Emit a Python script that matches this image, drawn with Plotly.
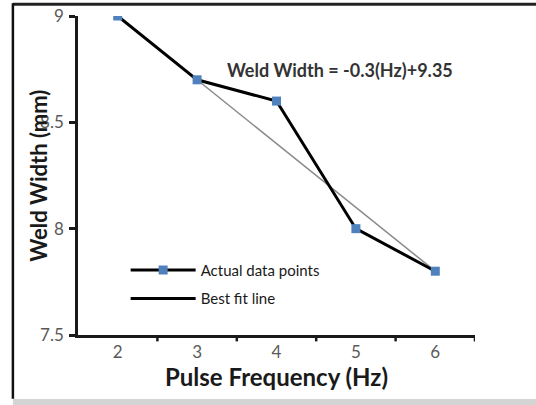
import plotly.graph_objects as go

# Data
pulse_freq = [2, 3, 4, 5, 6]
weld_width = [9.0, 8.7, 8.6, 8.0, 7.8]
fit_x = [2, 6]
fit_y = [9.0, 7.8]
x_ticks = [2, 3, 4, 5, 6]
y_ticks = [7.5, 8, 8.5, 9]
y_tick_text = ["7.5", "8", "8.5", "9"]
equation = "Weld Width = -0.3(Hz)+9.35"
x_title = "Pulse Frequency (Hz)"
y_title = "Weld Width (mm)"

fig = go.Figure()
fig.add_trace(go.Scatter(
    x=fit_x, y=fit_y, mode="lines",
    line=dict(color="#8a8a8a", width=1.5),
    showlegend=False, hoverinfo="skip"))
fig.add_trace(go.Scatter(
    x=pulse_freq, y=weld_width, mode="lines+markers",
    name="Actual data points", legendgroup="a",
    line=dict(color="black", width=3),
    marker=dict(symbol="square", size=9, color="#4f81bd")))
# legend-only entry for the fit line (drawn black/thick in the legend of the reference)
fig.add_trace(go.Scatter(
    x=[None], y=[None], mode="lines", name="Best fit line", legendgroup="b",
    line=dict(color="black", width=3)))

font_family = "Lato, Open Sans, sans-serif"

fig.update_layout(
    width=536, height=405,
    margin=dict(l=78, r=61, t=16, b=70, autoexpand=False),
    paper_bgcolor="white", plot_bgcolor="white",
    font=dict(family=font_family),
    showlegend=True,
    legend=dict(x=0.12, y=0.255, xanchor="left", yanchor="top",
                bgcolor="rgba(0,0,0,0)",
                font=dict(size=15, color="#1a1a1a", family=font_family),
                tracegroupgap=6, itemwidth=65),
    xaxis=dict(range=[1.5, 6.5], tickvals=x_ticks, ticktext=[str(v) for v in x_ticks],
               showgrid=False, zeroline=False, automargin=False,
               showline=True, linecolor="#1a1a1a", linewidth=2.5,
               ticks="", tickfont=dict(size=17, color="#595959"),
               title=dict(text="<b>" + x_title + "</b>",
                          font=dict(size=24, color="#1a1a1a"), standoff=2)),
    yaxis=dict(range=[7.5, 9], tickvals=y_ticks, ticktext=y_tick_text,
               showgrid=False, zeroline=False, automargin=False,
               showline=True, linecolor="#1a1a1a", linewidth=2.5,
               ticks="outside", ticklen=6, tickwidth=2.5, tickcolor="#1a1a1a",
               ticklabelstandoff=2,
               tickfont=dict(size=17, color="#595959")),
)

# y-axis title placed as in the reference (overlapping the tick labels slightly)
fig.add_annotation(text="<b>" + y_title + "</b>", xref="paper", yref="paper",
                   x=-0.10, y=0.5, textangle=-90, showarrow=False,
                   xanchor="center", yanchor="middle",
                   font=dict(size=22, color="#1a1a1a", family=font_family))

# x-axis tick marks between categories (at half values), drawn in data coordinates
for xv in [2.5, 3.5, 4.5, 5.5, 6.5]:
    fig.add_shape(type="line", xref="x", yref="paper", x0=xv, x1=xv,
                  y0=0, y1=-0.02, line=dict(color="#1a1a1a", width=2.5))

fig.add_annotation(text="<b>" + equation + "</b>", xref="paper", yref="paper",
                   x=0.66, y=0.871, showarrow=False,
                   font=dict(size=18, color="#333333", family=font_family))

# outer frame like the reference screenshot
fig.add_shape(type="line", xref="paper", yref="paper", x0=-0.164, x1=1.2,
              y0=1.037, y1=1.037, line=dict(color="#222222", width=3))
fig.add_shape(type="line", xref="paper", yref="paper", x0=-0.164, x1=-0.164,
              y0=1.04, y1=-0.2, line=dict(color="#111111", width=2.5))
fig.add_shape(type="rect", xref="paper", yref="paper", x0=-0.164, x1=1.2,
              y0=-0.201, y1=-0.23, line=dict(width=0), fillcolor="#d4d4d4")

fig.write_html("out.html", config={"displayModeBar": False},
               post_script="document.body.style.margin='0';")
